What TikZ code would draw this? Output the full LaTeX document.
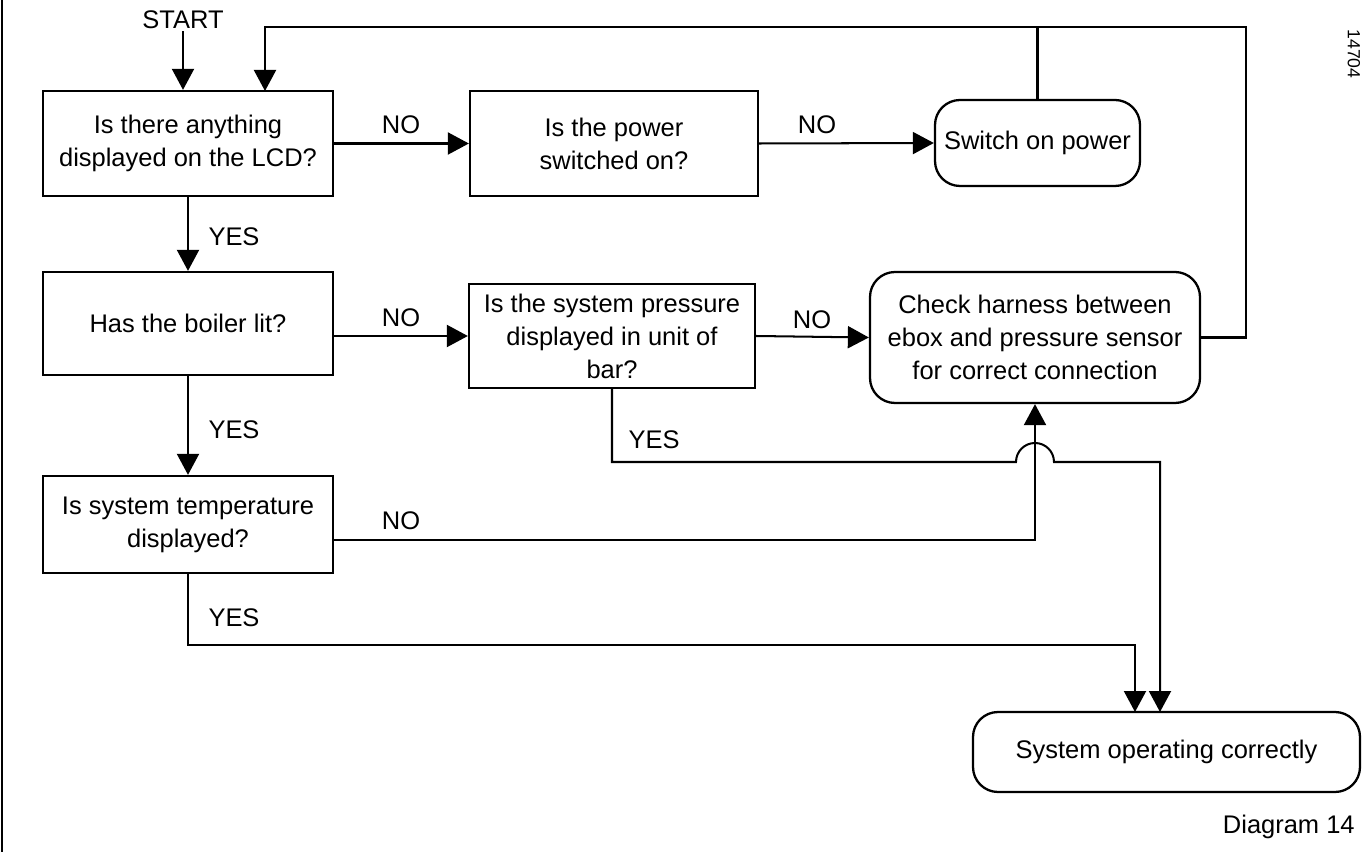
\documentclass[tikz,border=0pt]{standalone}
\usepackage{fontspec}
\setmainfont{Liberation Sans}
\usetikzlibrary{arrows.meta,calc}

\begin{document}
\begin{tikzpicture}[
  >={Triangle[length=0.42cm,width=0.44cm]},
  txt/.style={font=\fontsize{14.5}{18.8}\selectfont},
  qbox/.style={txt,draw,rectangle,align=center,inner sep=2pt,line width=1.3pt},
  rbox/.style={qbox,rounded corners=0.5cm},
  wire/.style={line width=1.15pt},
  lbl/.style={txt,inner sep=1pt},
  tag/.style={font=\fontsize{14.5}{17}\selectfont,inner sep=0pt}
]
\useasboundingbox (0,0) rectangle (27.24,-17.04);
\draw[line width=1pt] (0.04,0) -- (0.04,-17.04);
% ================= boxes =================
\node[lbl] (start) at (3.66,-0.40) {START};
\node[qbox,minimum width=5.8cm,minimum height=2.1cm] (A) at (3.76,-2.87) {Is there anything\\displayed on the LCD?};
\node[qbox,minimum width=5.76cm,minimum height=2.1cm] (B) at (12.28,-2.87) {Is the power\\switched on?};
\node[rbox,minimum width=4.1cm,minimum height=1.72cm] (C) at (20.75,-2.86) {Switch on power};
\node[qbox,minimum width=5.8cm,minimum height=2.06cm] (D) at (3.76,-6.47) {Has the boiler lit?};
\node[qbox,minimum width=5.72cm,minimum height=2.08cm] (E) at (12.24,-6.72) {Is the system pressure\\displayed in unit of\\bar?};
\node[rbox,minimum width=6.6cm,minimum height=2.62cm] (F) at (20.70,-6.75) {Check harness between\\ebox and pressure sensor\\for correct connection};
\node[qbox,minimum width=5.8cm,minimum height=1.94cm] (G) at (3.76,-10.49) {Is system temperature\\displayed?};
\node[rbox,minimum width=7.74cm,minimum height=1.6cm] (H) at (23.33,-15.04) {System operating correctly};
% ================= helper points =================
\coordinate (jtop) at (24.92,-0.54);
\coordinate (aIn) at (5.30,-1.82);
\coordinate (gOut) at (6.66,-10.80);
\coordinate (eRow) at (0,-9.24);
\coordinate (gRow) at (0,-12.90);
\coordinate (hIn1) at (22.70,-14.24);
\coordinate (hIn2) at (23.20,-14.24);
% ================= connectors =================
\draw[wire,->] (start.south) -- (start.south |- A.north);
\draw[wire,->] (A.east) -- (B.west);
\draw[wire,->] (B.east) -- (C.west);
\draw[wire] (C.north) -- (C.north |- jtop);
\draw[wire,->] (F.east) -| (jtop) -| (aIn);
\draw[wire,->] (A.south) -- (D.north);
\draw[wire,->] (D.east |- E.west) -- (E.west);
\draw[wire,->] (E.east) -- (F.west);
\draw[wire,->] (D.south) -- (G.north);
\draw[wire,->] (gOut) -| (F.south);
\draw[wire,->] (E.south) |- ($(F.south |- eRow)+(-0.38,0)$) arc (180:0:0.38) -| (hIn2);
\draw[wire,->] (G.south) |- (gRow -| hIn1) -- (hIn1);
% ================= labels =================
\node[lbl] (no1) at (8.02,-2.50) {NO};
\node[lbl] (no2) at (16.34,-2.50) {NO};
\node[lbl] (yes1) at (4.68,-4.74) {YES};
\node[lbl] (no3) at (8.02,-6.36) {NO};
\node[lbl] (no4) at (16.24,-6.40) {NO};
\node[lbl] (yes2) at (4.68,-8.60) {YES};
\node[lbl] (yes3) at (13.08,-8.80) {YES};
\node[lbl] (no5) at (8.02,-10.42) {NO};
\node[lbl] (yes4) at (4.68,-12.36) {YES};
\node[tag,anchor=east] (dia) at (27.10,-16.54) {Diagram 14};
\node[font=\fontsize{10}{12}\selectfont,rotate=-90,inner sep=0pt] (ref) at (27.08,-1.08) {14704};
\end{tikzpicture}
\end{document}
